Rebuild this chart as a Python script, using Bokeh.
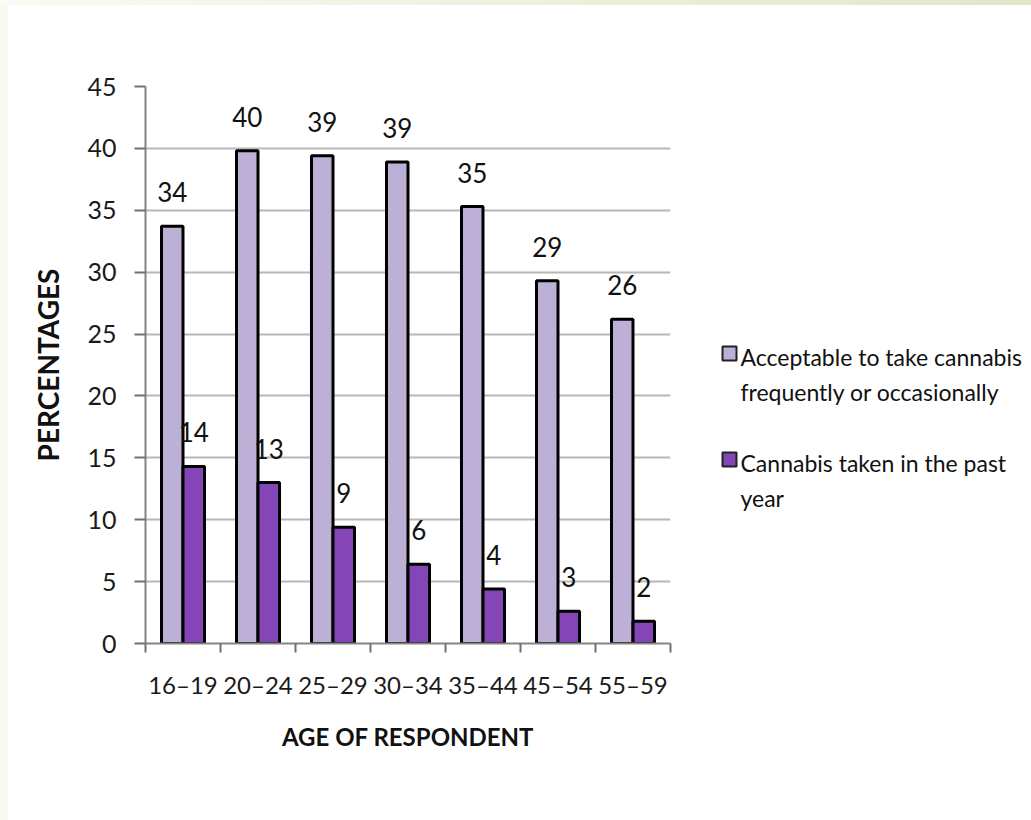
from bokeh.plotting import figure
from bokeh.models import Range1d, FixedTicker, Div
from bokeh.layouts import row, column
from bokeh.core.properties import value
from bokeh.embed import file_html
from bokeh.resources import INLINE
import numpy as np

# ---- data ----
categories = ["16–19", "20–24", "25–29", "30–34", "35–44", "45–54", "55–59"]
acceptable = [33.7, 39.8, 39.4, 38.9, 35.3, 29.3, 26.2]
taken = [14.3, 13.0, 9.4, 6.4, 4.4, 2.6, 1.8]
series_names = ["Acceptable to take cannabis\nfrequently or occasionally",
                "Cannabis taken in the past\nyear"]
y_ticks = [0, 5, 10, 15, 20, 25, 30, 35, 40, 45]

LIGHT = "#bdb0d6"
DARK = "#8445b6"
FONT = "Lato"

idx = np.arange(len(categories))
bw = 0.287
x_light = idx - bw / 2
x_dark = idx + bw / 2

H = 815
TOP = 81
BOTTOM = 177

p = figure(width=692, height=H, output_backend="svg", toolbar_location=None,
           x_range=Range1d(-0.5, len(categories) - 0.5), y_range=Range1d(0, 45),
           min_border_left=137, min_border_right=30, min_border_top=TOP,
           min_border_bottom=BOTTOM)
p.outline_line_color = None
p.background_fill_color = "white"
p.border_fill_color = "white"

p.vbar(x=x_light, top=acceptable, width=bw, fill_color=LIGHT,
       line_color="black", line_width=3)
p.vbar(x=x_dark, top=taken, width=bw, fill_color=DARK,
       line_color="black", line_width=3)

p.text(x=x_light, y=acceptable, text=[str(round(v)) for v in acceptable],
       text_align="center", text_baseline="middle", y_offset=-34,
       text_font=value(FONT), text_font_size="26px", text_color="#111111")
p.text(x=x_dark, y=taken, text=[str(round(v)) for v in taken],
       text_align="center", text_baseline="middle", y_offset=-34,
       text_font=value(FONT), text_font_size="26px", text_color="#111111")

# y axis
yax = p.yaxis[0]
yax.ticker = FixedTicker(ticks=y_ticks)
yax.major_tick_out = 11
yax.major_tick_in = 0
yax.minor_tick_out = 0
yax.minor_tick_in = 0
yax.major_tick_line_color = "#707070"
yax.major_tick_line_width = 2
yax.axis_line_color = "#858585"
yax.axis_line_width = 2
yax.major_label_standoff = 18
yax.major_label_text_font = FONT
yax.major_label_text_font_size = "25px"
yax.major_label_text_color = "#1a1a1a"
yax.axis_label = "PERCENTAGES"
yax.axis_label_text_font = FONT
yax.axis_label_text_font_style = "bold"
yax.axis_label_text_font_size = "28px"
yax.axis_label_text_color = "#111111"
yax.axis_label_standoff = 19

p.ygrid.ticker = FixedTicker(ticks=y_ticks)
p.ygrid.grid_line_color = "#b8b8b8"
p.ygrid.grid_line_width = 2
p.xgrid.visible = False

# x axis
xax = p.xaxis[0]
xax.ticker = FixedTicker(ticks=list(idx), minor_ticks=list(np.arange(len(categories) + 1) - 0.5))
xax.major_label_overrides = {int(i): c for i, c in zip(idx, categories)}
xax.major_tick_out = 0
xax.major_tick_in = 0
xax.minor_tick_out = 9
xax.minor_tick_in = 0
xax.minor_tick_line_color = "#707070"
xax.minor_tick_line_width = 2
xax.axis_line_color = "#858585"
xax.axis_line_width = 2
xax.major_label_standoff = 17
xax.major_label_text_font = FONT
xax.major_label_text_font_size = "24px"
xax.major_label_text_color = "#1a1a1a"
xax.axis_label = "AGE OF RESPONDENT"
xax.axis_label_text_font = FONT
xax.axis_label_text_font_style = "bold"
xax.axis_label_text_font_size = "24px"
xax.axis_label_text_color = "#111111"
xax.axis_label_standoff = 20

# legend panel (its frame is aligned with the chart frame by the row layout)
lg = figure(width=331, height=H, output_backend="svg", toolbar_location=None,
            x_range=Range1d(0, 331), y_range=Range1d(H - BOTTOM, TOP),
            min_border_left=0, min_border_right=0, min_border_top=TOP,
            min_border_bottom=BOTTOM, x_axis_location=None, y_axis_location=None)
lg.outline_line_color = None
lg.grid.visible = False
lg.border_fill_color = "white"
colors = [LIGHT, DARK]
entry_top = 348
entry_gap = 106
line_gap = 35
for k, (name, col) in enumerate(zip(series_names, colors)):
    y0 = entry_top + k * entry_gap
    lg.scatter(x=[29], y=[y0], marker="square", size=14, fill_color=col,
               line_color="#222222", line_width=2)
    lines = name.split("\n")
    lg.text(x=[40] * len(lines), y=[y0 + 3 + j * line_gap for j in range(len(lines))],
            text=lines, text_align="left", text_baseline="middle",
            text_font=value(FONT), text_font_size="23px", text_color="#111111")

top_band = Div(text="", width=1031, height=5, margin=0,
               styles={"background": "linear-gradient(to right, #f9fbf4, #e0e8c8)"})
left_strip = Div(text="", width=8, height=H, margin=0,
                 styles={"background": "#f8faf2"})

layout = column(top_band, row(left_strip, p, lg, spacing=0), spacing=0)

open("out.html", "w").write(file_html(layout, INLINE))
